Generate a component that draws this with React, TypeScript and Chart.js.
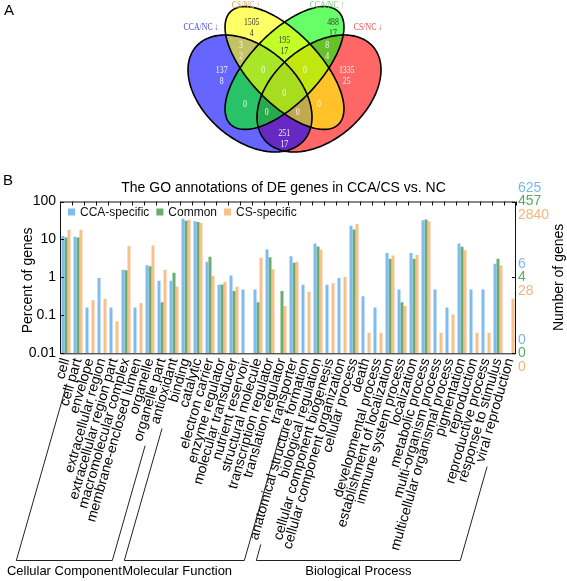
import React, { useEffect, useRef } from "react";
import { Chart, registerables } from "chart.js";

Chart.register(...registerables);

const SANS = '"Liberation Sans", Arial, Helvetica, sans-serif';
const SERIF = '"Liberation Serif", "Times New Roman", serif';

// ---------------- Panel A : Venn diagram data ----------------
const vennSetNames = ["CCA/NC \u2193", "CS/NC \u2191", "CCA/NC \u2191", "CS/NC \u2193"];
const vennRegionCounts = ["1505", "488", "137", "3", "195", "8", "1335", "0", "0", "0", "0", "0", "0", "0", "251"];
const vennRegionSub = ["4", "17", "8", "2", "17", "4", "25", "", "", "", "", "", "", "", "17"];

// layout / style of panel A (in the Venn chart's scale units)
const vennSetColors = ["#4848dc", "#d4a452", "#78cc78", "#ee4c4c"];
const vennFills = ["rgba(0,0,255,0.6)", "rgba(255,255,0,0.6)", "rgba(0,255,0,0.6)", "rgba(255,0,0,0.6)"];
const vennEllipses = [
  { cx: 250, cy: 93.5, a: 71.5, b: 46.4, rot: 40.9 },
  { cx: 284.5, cy: 68, a: 78, b: 35, rot: 46.4 },
  { cx: 284.5, cy: 68, a: 78, b: 35, rot: 133.6 },
  { cx: 319, cy: 93.5, a: 71.5, b: 46.4, rot: 139.1 },
];
const vennDrawOrder = [3, 0, 2, 1];
const vennNamePos = [
  [201, 27],
  [246, 5.5],
  [327, 5.5],
  [368, 27],
];
const vennLabelPos = [
  [251.7, 28], [333, 28], [221.7, 76], [241, 51], [284.3, 46], [327.3, 51], [346.7, 76],
  [263.3, 70.7], [305, 70.7], [284.3, 93.3], [245, 104], [266.7, 112], [297.7, 112], [319, 104], [284.3, 138.7],
];
const vennDarkLabels = ["1505", "488", "195"];

// ---------------- Panel B : GO annotation data ----------------
const categories = [
  "cell", "cell part", "envelope", "extracellular region", "extracellular region part",
  "macromolecular complex", "membrane-enclosed lumen", "organelle", "organelle part",
  "antioxidant", "binding", "catalytic", "electron carrier", "enzyme regulator",
  "molecular transducer", "nutrient reservoir", "structural molecule",
  "transcription regulator", "translation regulator", "transporter",
  "anatomical structure formation", "biological regulation", "cellular component biogenesis",
  "cellular component organization", "cellular process", "death", "developmental process",
  "establishment of localization", "immune system process", "localization", "metabolic process",
  "multi-organism process", "multicellular organismal process", "pigmentation", "reproduction",
  "reproductive process", "response to stimulus", "viral reproduction",
];
const groupNames = ["Cellular Component", "Molecular Function", "Biological Process"];
const groupFirst = [0, 9, 20];
const groupLast = [8, 19, 37];

const seriesNames = ["CCA-specific", "Common", "CS-specific"];
const ccaSpecific = [
  12.3, 11.8, 0.16, 0.96, 0.16, 1.6, 0.16, 2.1, 0.81,
  0.81, 35, 30, 2.6, 0.64, 1.12, 0.48, 0.48, 5.4, null, 3.6,
  0.64, 7.8, 0.64, 0.96, 23, 0.32, 0.16, 4.4, 0.48, 4.4, 32, 0.48, 0.16, 7.8, 0.48, 0.48, 2.3, null,
];
const common = [
  11.2, 11.2, null, null, null, 1.55, null, 1.96, 0.22,
  1.32, 31, 29, 3.5, 0.65, 0.44, null, 0.22, 3.4, 0.44, 2.44,
  null, 6.5, null, null, 18.3, null, null, 3.1, 0.22, 3.1, 33.5, null, null, 6.4, null, null, 3.1, null,
];
const csSpecific = [
  18, 18, 0.25, 0.275, 0.07, 6.7, 0.21, 6.9, 1.6,
  0.58, 33, 27, 1.1, 0.77, 0.57, null, 3.3, 1.63, 0.176, 2.6,
  0.42, 5.4, 0.7, 1.02, 25.5, 0.035, 0.035, 3.8, 0.176, 3.9, 30, 0.035, 0.106, 5.2, 0.035, 0.035, 2.05, 0.28,
];

const percentTicks = [0.01, 0.1, 1, 10, 100];
const countTickPercents = [100, 1, 0.01];
const countTicksCCA = ["625", "6", "0"];
const countTicksCommon = ["457", "4", "0"];
const countTicksCS = ["2840", "28", "0"];

const BLUE = "#80bcef";
const GREEN = "#6cad6f";
const ORANGE = "#f8c08b";
const BLUE_TXT = "#7cb8ec";
const GREEN_TXT = "#5ea761";
const ORANGE_TXT = "#f4b47c";

const ROT = 74;
const TICK_FONT = 14;
const TICK_PAD = 3;

// ---------------- plugins ----------------
const vennPlugin = {
  id: "vennDraw",
  afterDraw(chart: any) {
    const { ctx } = chart;
    const xs = chart.scales.x;
    const ys = chart.scales.y;
    const px = (v: number) => xs.getPixelForValue(v);
    const py = (v: number) => ys.getPixelForValue(v);
    const pathFor = (e: any) => {
      const r = (e.rot * Math.PI) / 180;
      const c = Math.cos(r), s = Math.sin(r);
      ctx.beginPath();
      for (let k = 0; k <= 240; k++) {
        const t = (k / 240) * Math.PI * 2;
        const X = e.cx + e.a * Math.cos(t) * c - e.b * Math.sin(t) * s;
        const Y = e.cy + e.a * Math.cos(t) * s + e.b * Math.sin(t) * c;
        if (k === 0) ctx.moveTo(px(X), py(Y));
        else ctx.lineTo(px(X), py(Y));
      }
      ctx.closePath();
    };
    ctx.save();
    vennDrawOrder.forEach((k) => {
      pathFor(vennEllipses[k]);
      ctx.fillStyle = vennFills[k];
      ctx.fill();
    });
    ctx.strokeStyle = "#000";
    ctx.lineWidth = 1.6;
    vennDrawOrder.forEach((k) => {
      pathFor(vennEllipses[k]);
      ctx.stroke();
    });
    const condensedText = (txt: string, x: number, y: number, color: string) => {
      ctx.save();
      ctx.translate(x, y);
      ctx.scale(0.78, 1);
      ctx.fillStyle = color;
      ctx.fillText(txt, 0, 0);
      ctx.restore();
    };
    ctx.font = `10px ${SERIF}`;
    ctx.textAlign = "center";
    ctx.textBaseline = "middle";
    vennSetNames.forEach((n, i) => {
      condensedText(n, px(vennNamePos[i][0]), py(vennNamePos[i][1]), vennSetColors[i]);
    });
    vennRegionCounts.forEach((n, i) => {
      const [lx, ly] = vennLabelPos[i];
      const col = vennDarkLabels.includes(n) ? "#3a3a3a" : "#f6f6f6";
      const sub = vennRegionSub[i];
      if (sub) {
        condensedText(n, px(lx), py(ly - 5.3), col);
        condensedText(sub, px(lx), py(ly + 5.3), col);
      } else {
        condensedText(n, px(lx), py(ly), col);
      }
    });
    ctx.font = `15px ${SANS}`;
    ctx.textAlign = "left";
    ctx.textBaseline = "alphabetic";
    ctx.fillStyle = "#000";
    ctx.fillText("A", 4, 15);
    ctx.restore();
  },
};

const barPlugin = {
  id: "barDecor",
  afterDraw(chart: any) {
    const { ctx, chartArea: ca } = chart;
    const xs = chart.scales.x;
    const ys = chart.scales.y;
    const y2 = chart.scales.y2;
    ctx.save();
    // frame
    ctx.strokeStyle = "#111";
    ctx.lineWidth = 1;
    ctx.beginPath();
    ctx.rect(ca.left + 0.5, ca.top + 0.5, ca.right - ca.left - 1, ca.bottom - ca.top);
    ctx.stroke();
    // inward ticks: top (category boundaries), left (decades), right (count marks)
    const half = (xs.getPixelForValue(1) - xs.getPixelForValue(0)) / 2;
    ctx.beginPath();
    for (let i = 0; i <= categories.length; i++) {
      const bx = Math.round(xs.getPixelForValue(0) - half + i * 2 * half) + 0.5;
      ctx.moveTo(bx, ca.top);
      ctx.lineTo(bx, ca.top + 4);
    }
    percentTicks.forEach((v) => {
      const yy = Math.round(ys.getPixelForValue(v)) + 0.5;
      ctx.moveTo(ca.left, yy);
      ctx.lineTo(ca.left + 4, yy);
    });
    countTickPercents.forEach((v) => {
      const yy = Math.round(y2.getPixelForValue(v)) + 0.5;
      ctx.moveTo(ca.right - 4, yy);
      ctx.lineTo(ca.right, yy);
    });
    ctx.stroke();

    // right coloured count labels
    ctx.font = `14px ${SANS}`;
    ctx.textAlign = "left";
    ctx.textBaseline = "middle";
    countTickPercents.forEach((v, k) => {
      const yy = y2.getPixelForValue(v);
      ctx.fillStyle = BLUE_TXT;
      ctx.fillText(countTicksCCA[k], ca.right + 2, yy - 13);
      ctx.fillStyle = GREEN_TXT;
      ctx.fillText(countTicksCommon[k], ca.right + 2, yy);
      ctx.fillStyle = ORANGE_TXT;
      ctx.fillText(countTicksCS[k], ca.right + 2, yy + 13.5);
    });

    // axis titles
    ctx.fillStyle = "#000";
    ctx.textAlign = "center";
    const midY = (ca.top + ca.bottom) / 2;
    ctx.save();
    ctx.translate(28, midY + 3);
    ctx.rotate(-Math.PI / 2);
    ctx.fillText("Percent of genes", 0, 0);
    ctx.restore();
    ctx.save();
    ctx.translate(559, midY);
    ctx.rotate(-Math.PI / 2);
    ctx.fillText("Number of genes", 0, 0);
    ctx.restore();

    // legend inside the plot
    ctx.font = `12px ${SANS}`;
    ctx.textAlign = "left";
    let lx = ca.left + 8;
    const ly = ca.top + 10.5;
    chart.data.datasets.forEach((ds: any) => {
      ctx.fillStyle = ds.backgroundColor;
      ctx.fillRect(lx, ly - 3.5, 7, 7);
      ctx.fillStyle = "#111";
      ctx.fillText(ds.label, lx + 12, ly + 0.5);
      lx += 12 + ctx.measureText(ds.label).width + 7;
    });

    // group brackets following the rotated labels
    const a = (ROT * Math.PI) / 180;
    const ca_ = Math.cos(a), sa = Math.sin(a);
    const lh = TICK_FONT * 1.2;
    const anchorY = xs.top + TICK_PAD;
    const bottomY = chart.height - 21;
    ctx.font = `${TICK_FONT}px ${SANS}`;
    const lineFor = (i: number) => {
      const w = ctx.measureText(categories[i]).width;
      const x0 = xs.getPixelForValue(i) + (lh / 2) * sa;
      const y0 = anchorY + (lh / 2) * ca_;
      const t0 = w + 5;
      const t1 = (bottomY - y0) / sa;
      return { sx: x0 - t0 * ca_, sy: y0 + t0 * sa, ex: x0 - t1 * ca_ };
    };
    ctx.strokeStyle = "#222";
    ctx.lineWidth = 1;
    const centers: number[] = [];
    groupNames.forEach((g, gi) => {
      const f = lineFor(groupFirst[gi]);
      const l = lineFor(groupLast[gi]);
      ctx.beginPath();
      ctx.moveTo(f.sx, f.sy);
      ctx.lineTo(f.ex, bottomY + 0.5);
      ctx.lineTo(l.ex, bottomY + 0.5);
      ctx.lineTo(l.sx, l.sy);
      ctx.stroke();
      centers.push((f.ex + l.ex) / 2);
    });
    // group names
    ctx.font = `13px ${SANS}`;
    ctx.fillStyle = "#000";
    ctx.textBaseline = "middle";
    ctx.textAlign = "left";
    const w0 = ctx.measureText(groupNames[0]).width;
    const x0 = Math.max(2, centers[0] - w0 / 2);
    ctx.fillText(groupNames[0], x0, bottomY + 11.5);
    ctx.fillText(groupNames[1], x0 + w0 + 0.5, bottomY + 11.5);
    ctx.textAlign = "center";
    ctx.fillText(groupNames[2], centers[2], bottomY + 11.5);

    // panel letter
    ctx.font = `15px ${SANS}`;
    ctx.textAlign = "left";
    ctx.textBaseline = "alphabetic";
    ctx.fillText("B", 3, 25);
    ctx.restore();
  },
};

export default function App() {
  const vennRef = useRef<HTMLCanvasElement>(null);
  const barRef = useRef<HTMLCanvasElement>(null);

  useEffect(() => {
    const venn = new Chart(vennRef.current as HTMLCanvasElement, {
      type: "scatter",
      data: { datasets: [] },
      options: {
        responsive: false,
        animation: false,
        devicePixelRatio: 1,
        layout: { padding: 0 },
        plugins: { legend: { display: false }, tooltip: { enabled: false } },
        scales: {
          x: { type: "linear", min: 0, max: 567, display: false },
          y: { type: "linear", min: 0, max: 160, reverse: true, display: false },
        },
      },
      plugins: [vennPlugin],
    } as any);

    const bar = new Chart(barRef.current as HTMLCanvasElement, {
      type: "bar",
      data: {
        labels: categories,
        datasets: [
          { label: seriesNames[0], data: ccaSpecific, backgroundColor: BLUE, borderWidth: 0 },
          { label: seriesNames[1], data: common, backgroundColor: GREEN, borderWidth: 0 },
          { label: seriesNames[2], data: csSpecific, backgroundColor: ORANGE, borderWidth: 0 },
        ],
      },
      options: {
        responsive: false,
        animation: false,
        devicePixelRatio: 1,
        layout: { padding: 0 },
        datasets: { bar: { barPercentage: 1, categoryPercentage: 0.75 } },
        plugins: {
          legend: { display: false },
          tooltip: { enabled: false },
          title: {
            display: true,
            text: "The GO annotations of DE genes in CCA/CS vs. NC",
            color: "#000",
            font: { family: SANS, size: 14, weight: "normal" },
            padding: { top: 20, bottom: 4.7 },
          },
        },
        scales: {
          x: {
            type: "category",
            offset: true,
            grid: { display: false, drawTicks: false },
            border: { display: false },
            ticks: {
              autoSkip: false,
              minRotation: ROT,
              maxRotation: ROT,
              padding: TICK_PAD,
              color: "#000",
              font: { family: SANS, size: TICK_FONT },
            },
            afterFit: (s: any) => {
              s.height = 227.7;
            },
          },
          y: {
            type: "logarithmic",
            position: "left",
            min: 0.01,
            max: 100,
            grid: { display: false, drawTicks: false },
            border: { display: false },
            afterBuildTicks: (s: any) => {
              s.ticks = percentTicks.map((v) => ({ value: v }));
            },
            ticks: {
              padding: 4,
              color: "#000",
              font: { family: SANS, size: 14 },
              callback: (v: any) => String(v),
            },
            afterFit: (s: any) => {
              s.width = 60;
            },
          },
          y2: {
            type: "logarithmic",
            position: "right",
            min: 0.01,
            max: 100,
            grid: { display: false, drawTicks: false },
            border: { display: false },
            ticks: { display: false },
            afterFit: (s: any) => {
              s.width = 51;
            },
          },
        },
      },
      plugins: [barPlugin],
    } as any);

    return () => {
      venn.destroy();
      bar.destroy();
    };
  }, []);

  return (
    <div style={{ position: "absolute", left: 0, top: 0, width: 567, height: 581, background: "#fff" }}>
      <canvas
        ref={vennRef}
        width={567}
        height={160}
        style={{ position: "absolute", left: 0, top: 0, width: 567, height: 160 }}
      />
      <canvas
        ref={barRef}
        width={567}
        height={421}
        style={{ position: "absolute", left: 0, top: 160, width: 567, height: 421 }}
      />
    </div>
  );
}
